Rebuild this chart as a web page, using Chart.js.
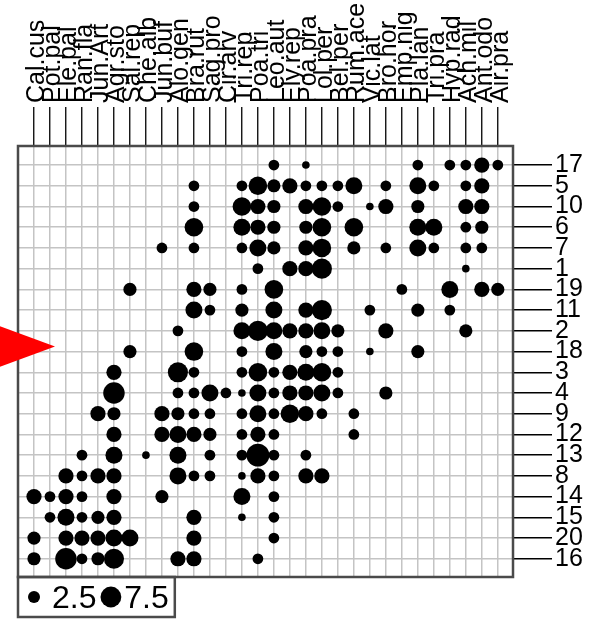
<!DOCTYPE html>
<html>
<head>
<meta charset="utf-8">
<script src="https://cdn.jsdelivr.net/npm/chart.js@4.4.1/dist/chart.umd.min.js"></script>
<style>
  html, body { margin: 0; padding: 0; background: #fff; }
  canvas { display: block; }
</style>
</head>
<body>
<canvas id="tableChart" width="594" height="619"></canvas>
<script>
// species (columns) and sites (rows), in the order of the picture
const species = [
  'Cal.cus', 'Pot.pal', 'Ele.pal', 'Ran.fla', 'Jun.Art', 'Agr.sto', 'Sal.rep', 'Che.alb',
  'Jun.buf', 'Alo.gen', 'Bra.rut', 'Sag.pro', 'Cir.arv', 'Tri.rep', 'Poa.tri', 'Leo.aut',
  'Ely.rep', 'Poa.pra', 'Lol.per', 'Bel.per', 'Rum.ace', 'Vic.lat', 'Bro.hor', 'Emp.nig',
  'Pla.lan', 'Tri.pra', 'Hyp.rad', 'Ach.mil', 'Ant.odo', 'Air.pra'
];
const sites = ['17', '5', '10', '6', '7', '1', '19', '11', '2', '18',
  '3', '4', '9', '12', '13', '8', '14', '15', '20', '16'];

// cover values per site, one entry per species
const site17 = [0,0,0,0,0, 0,0,0,0,0, 0,0,0,0,0, 2,0,1,0,0, 0,0,0,0,2, 0,2,2,4,2];
const site5  = [0,0,0,0,0, 0,0,0,0,0, 2,0,0,2,6, 3,4,2,2,2, 5,0,2,0,5, 2,0,2,4,0];
const site10 = [0,0,0,0,0, 0,0,0,0,0, 2,0,0,6,4, 3,0,4,6,2, 0,1,4,0,3, 0,0,4,4,0];
const site6  = [0,0,0,0,0, 0,0,0,0,0, 6,0,0,5,4, 3,0,3,6,0, 6,0,0,0,5, 5,0,2,3,0];
const site7  = [0,0,0,0,0, 0,0,0,2,0, 2,0,0,2,5, 3,0,4,6,0, 3,0,2,0,5, 2,0,2,2,0];
const site1  = [0,0,0,0,0, 0,0,0,0,0, 0,0,0,0,2, 0,4,4,7,0, 0,0,0,0,0, 0,0,1,0,0];
const site19 = [0,0,0,0,0, 0,3,0,0,0, 4,3,0,2,0, 6,0,0,0,0, 0,0,0,2,0, 0,5,0,4,3];
const site11 = [0,0,0,0,0, 0,0,0,0,0, 5,2,0,3,0, 5,0,4,7,0, 0,2,0,0,3, 0,2,0,0,0];
const site2  = [0,0,0,0,0, 0,0,0,0,2, 0,0,0,5,7, 5,4,4,5,3, 0,0,4,0,0, 0,0,3,0,0];
const site18 = [0,0,0,0,0, 0,3,0,0,0, 6,0,0,2,0, 5,0,3,2,2, 0,1,0,0,3, 0,0,0,0,0];
const site3  = [0,0,0,0,0, 4,0,0,0,7, 2,0,0,2,6, 2,4,5,6,2, 0,0,0,0,0, 0,0,0,0,0];
const site4  = [0,0,0,0,0, 8,0,0,0,2, 2,5,2,1,5, 2,4,4,5,2, 0,0,3,0,0, 0,0,0,0,0];
const site9  = [0,0,0,0,4, 3,0,0,4,3, 2,2,0,2,5, 2,6,4,2,0, 2,0,0,0,0, 0,0,0,0,0];
const site12 = [0,0,0,0,0, 4,0,0,4,5, 4,3,0,2,4, 2,0,0,0,0, 2,0,0,0,0, 0,0,0,0,0];
const site13 = [0,0,0,2,0, 5,0,1,0,5, 0,2,0,2,9, 2,0,2,0,0, 0,0,0,0,0, 0,0,0,0,0];
const site8  = [0,0,4,2,4, 4,0,0,0,5, 2,2,0,1,4, 2,0,4,4,0, 0,0,0,0,0, 0,0,0,0,0];
const site14 = [4,2,4,2,0, 4,0,0,3,0, 0,0,0,5,0, 2,0,0,0,0, 0,0,0,0,0, 0,0,0,0,0];
const site15 = [0,2,5,2,3, 4,0,0,0,0, 4,0,0,1,0, 2,0,0,0,0, 0,0,0,0,0, 0,0,0,0,0];
const site20 = [3,0,4,4,4, 5,5,0,0,0, 4,0,0,0,0, 2,0,0,0,0, 0,0,0,0,0, 0,0,0,0,0];
const site16 = [3,0,8,2,3, 7,0,0,0,4, 4,0,0,0,2, 0,0,0,0,0, 0,0,0,0,0, 0,0,0,0,0];

const siteRows = [site17, site5, site10, site6, site7, site1, site19, site11, site2, site18,
  site3, site4, site9, site12, site13, site8, site14, site15, site20, site16];

const legendValues = [2.5, 7.5];

const frameColor = '#4a4a4a';
const labelFont = { family: 'Liberation Sans', size: 25 };

// symbol area proportional to the value
function dotRadius(value) {
  return 3.8 * Math.sqrt(value);
}

const points = [];
siteRows.forEach((row, r) => {
  row.forEach((value, c) => {
    if (value > 0) points.push({ x: c, y: r, v: value });
  });
});

const framePlugin = {
  id: 'frame',
  afterDatasetsDraw(chart) {
    const { ctx, chartArea } = chart;
    ctx.save();
    ctx.strokeStyle = frameColor;
    ctx.lineWidth = 2.5;
    ctx.strokeRect(chartArea.left, chartArea.top,
      chartArea.right - chartArea.left, chartArea.bottom - chartArea.top);
    ctx.restore();
  },
  afterDraw(chart) {
    const { ctx, chartArea } = chart;
    ctx.save();
    // size legend below the table
    const boxTop = chartArea.bottom;
    const boxHeight = 40;
    const midY = boxTop + boxHeight / 2;
    ctx.font = '32px "Liberation Sans"';
    ctx.textBaseline = 'middle';
    ctx.fillStyle = '#000';
    let cursor = chartArea.left + 10;
    legendValues.forEach((value, i) => {
      const r = dotRadius(value);
      if (i > 0) cursor += 4;
      ctx.beginPath();
      ctx.arc(cursor + r, midY, r, 0, Math.PI * 2);
      ctx.fill();
      cursor += 2 * r + (i === 0 ? 12 : 3);
      const text = String(value);
      ctx.fillText(text, cursor, midY + 2);
      cursor += ctx.measureText(text).width;
    });
    ctx.strokeStyle = frameColor;
    ctx.lineWidth = 2.5;
    ctx.strokeRect(chartArea.left, boxTop, cursor - chartArea.left + 6, boxHeight);

    // red pointer on the left
    const tipY = (chartArea.top + chartArea.bottom) / 2 - 15;
    ctx.fillStyle = '#ff0000';
    ctx.beginPath();
    ctx.moveTo(-2, tipY - 21);
    ctx.lineTo(55, tipY);
    ctx.lineTo(-2, tipY + 21);
    ctx.closePath();
    ctx.fill();
    ctx.restore();
  }
};

const ctx = document.getElementById('tableChart').getContext('2d');

const chart = new Chart(ctx, {
  type: 'scatter',
  data: {
    datasets: [{
      data: points,
      backgroundColor: '#000',
      borderWidth: 0,
      pointRadius: c => dotRadius(c.raw.v),
      pointHoverRadius: c => dotRadius(c.raw.v)
    }]
  },
  options: {
    responsive: false,
    animation: false,
    events: [],
    layout: { padding: { left: 18, top: 0, right: 0, bottom: 42 } },
    plugins: {
      legend: { display: false },
      tooltip: { enabled: false }
    },
    scales: {
      x: {
        type: 'linear',
        position: 'top',
        min: -1,
        max: 29.95,
        afterBuildTicks(scale) {
          scale.ticks = species.map((_, i) => ({ value: i }));
        },
        afterFit(scale) {
          scale.height = 146;
          scale.paddingLeft = 0;
          scale.paddingRight = 0;
        },
        ticks: {
          autoSkip: false,
          minRotation: 90,
          maxRotation: 90,
          padding: 4,
          labelOffset: 33,
          color: '#000',
          font: labelFont,
          callback: value => species[value]
        },
        grid: {
          color: '#c4c4c4',
          lineWidth: 1.5,
          tickLength: 39,
          tickColor: '#000',
          tickWidth: 1.3
        },
        border: { display: false }
      },
      y: {
        type: 'linear',
        position: 'right',
        reverse: true,
        min: -0.92,
        max: 19.88,
        afterBuildTicks(scale) {
          scale.ticks = sites.map((_, i) => ({ value: i }));
        },
        afterFit(scale) {
          scale.width = 81;
          scale.paddingTop = 0;
          scale.paddingBottom = 0;
        },
        ticks: {
          autoSkip: false,
          padding: 3,
          color: '#000',
          font: labelFont,
          callback: value => sites[value]
        },
        grid: {
          color: '#c4c4c4',
          lineWidth: 1.5,
          tickLength: 39,
          tickColor: '#000',
          tickWidth: 1.3
        },
        border: { display: false }
      }
    }
  },
  plugins: [framePlugin]
});
</script>
</body>
</html>
